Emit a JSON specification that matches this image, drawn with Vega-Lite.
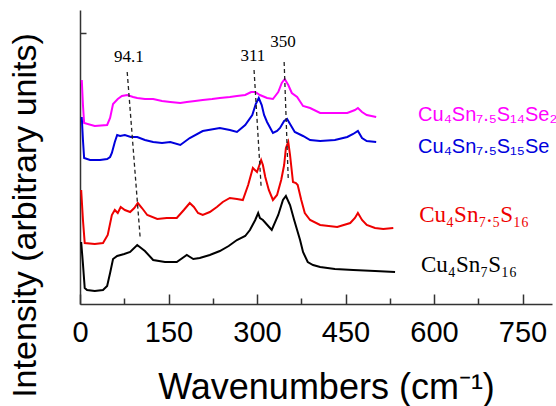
{
  "$schema": "https://vega.github.io/schema/vega-lite/v6.json",
  "width": 472,
  "height": 294,
  "autosize": {"type": "none"},
  "padding": {"left": 80, "top": 10, "right": 4, "bottom": 102},
  "background": "white",
  "config": {"view": {"stroke": null}, "font": "Liberation Sans"},
  "resolve": {"axis": {"x": "independent"}},
  "datasets": {
    "spectra": [
      {"s": "CuSnS", "w": 2, "v": 62}, {"s": "CuSnS", "w": 5, "v": 40}, {"s": "CuSnS", "w": 8, "v": 16}, {"s": "CuSnS", "w": 12, "v": 14}, {"s": "CuSnS", "w": 25, "v": 13}, {"s": "CuSnS", "w": 39, "v": 14}, {"s": "CuSnS", "w": 46, "v": 18}, {"s": "CuSnS", "w": 51, "v": 31}, {"s": "CuSnS", "w": 56, "v": 45}, {"s": "CuSnS", "w": 63, "v": 48}, {"s": "CuSnS", "w": 75, "v": 50}, {"s": "CuSnS", "w": 85, "v": 52}, {"s": "CuSnS", "w": 97, "v": 59}, {"s": "CuSnS", "w": 110, "v": 53}, {"s": "CuSnS", "w": 124, "v": 44}, {"s": "CuSnS", "w": 144, "v": 42}, {"s": "CuSnS", "w": 164, "v": 42}, {"s": "CuSnS", "w": 181, "v": 49}, {"s": "CuSnS", "w": 192, "v": 45}, {"s": "CuSnS", "w": 203, "v": 46}, {"s": "CuSnS", "w": 220, "v": 49}, {"s": "CuSnS", "w": 237, "v": 53}, {"s": "CuSnS", "w": 252, "v": 58}, {"s": "CuSnS", "w": 266, "v": 64}, {"s": "CuSnS", "w": 280, "v": 68}, {"s": "CuSnS", "w": 288, "v": 74}, {"s": "CuSnS", "w": 297, "v": 84}, {"s": "CuSnS", "w": 302, "v": 91}, {"s": "CuSnS", "w": 305, "v": 86}, {"s": "CuSnS", "w": 310, "v": 84}, {"s": "CuSnS", "w": 319, "v": 78}, {"s": "CuSnS", "w": 325, "v": 74}, {"s": "CuSnS", "w": 336, "v": 89}, {"s": "CuSnS", "w": 344, "v": 104}, {"s": "CuSnS", "w": 349, "v": 108}, {"s": "CuSnS", "w": 356, "v": 99}, {"s": "CuSnS", "w": 363, "v": 84}, {"s": "CuSnS", "w": 368, "v": 74}, {"s": "CuSnS", "w": 373, "v": 64}, {"s": "CuSnS", "w": 378, "v": 52}, {"s": "CuSnS", "w": 386, "v": 42}, {"s": "CuSnS", "w": 395, "v": 39}, {"s": "CuSnS", "w": 407, "v": 37}, {"s": "CuSnS", "w": 432, "v": 35}, {"s": "CuSnS", "w": 463, "v": 34}, {"s": "CuSnS", "w": 500, "v": 33}, {"s": "CuSnS", "w": 534, "v": 32},

      {"s": "Cu4Sn7.5S16", "w": 2, "v": 114}, {"s": "Cu4Sn7.5S16", "w": 5, "v": 84}, {"s": "Cu4Sn7.5S16", "w": 8, "v": 61}, {"s": "Cu4Sn7.5S16", "w": 25, "v": 60}, {"s": "Cu4Sn7.5S16", "w": 39, "v": 61}, {"s": "Cu4Sn7.5S16", "w": 47, "v": 69}, {"s": "Cu4Sn7.5S16", "w": 54, "v": 89}, {"s": "Cu4Sn7.5S16", "w": 59, "v": 94}, {"s": "Cu4Sn7.5S16", "w": 64, "v": 91}, {"s": "Cu4Sn7.5S16", "w": 69, "v": 97}, {"s": "Cu4Sn7.5S16", "w": 76, "v": 94}, {"s": "Cu4Sn7.5S16", "w": 85, "v": 92}, {"s": "Cu4Sn7.5S16", "w": 92, "v": 96}, {"s": "Cu4Sn7.5S16", "w": 98, "v": 101}, {"s": "Cu4Sn7.5S16", "w": 105, "v": 96}, {"s": "Cu4Sn7.5S16", "w": 114, "v": 89}, {"s": "Cu4Sn7.5S16", "w": 131, "v": 85}, {"s": "Cu4Sn7.5S16", "w": 147, "v": 86}, {"s": "Cu4Sn7.5S16", "w": 164, "v": 86}, {"s": "Cu4Sn7.5S16", "w": 176, "v": 94}, {"s": "Cu4Sn7.5S16", "w": 186, "v": 101}, {"s": "Cu4Sn7.5S16", "w": 193, "v": 97}, {"s": "Cu4Sn7.5S16", "w": 200, "v": 91}, {"s": "Cu4Sn7.5S16", "w": 208, "v": 89}, {"s": "Cu4Sn7.5S16", "w": 220, "v": 92}, {"s": "Cu4Sn7.5S16", "w": 232, "v": 97}, {"s": "Cu4Sn7.5S16", "w": 242, "v": 102}, {"s": "Cu4Sn7.5S16", "w": 254, "v": 106}, {"s": "Cu4Sn7.5S16", "w": 266, "v": 105}, {"s": "Cu4Sn7.5S16", "w": 276, "v": 104}, {"s": "Cu4Sn7.5S16", "w": 285, "v": 119}, {"s": "Cu4Sn7.5S16", "w": 293, "v": 136}, {"s": "Cu4Sn7.5S16", "w": 300, "v": 132}, {"s": "Cu4Sn7.5S16", "w": 307, "v": 144}, {"s": "Cu4Sn7.5S16", "w": 310, "v": 139}, {"s": "Cu4Sn7.5S16", "w": 314, "v": 127}, {"s": "Cu4Sn7.5S16", "w": 320, "v": 114}, {"s": "Cu4Sn7.5S16", "w": 327, "v": 104}, {"s": "Cu4Sn7.5S16", "w": 334, "v": 109}, {"s": "Cu4Sn7.5S16", "w": 341, "v": 124}, {"s": "Cu4Sn7.5S16", "w": 346, "v": 139}, {"s": "Cu4Sn7.5S16", "w": 349, "v": 156}, {"s": "Cu4Sn7.5S16", "w": 353, "v": 162}, {"s": "Cu4Sn7.5S16", "w": 356, "v": 149}, {"s": "Cu4Sn7.5S16", "w": 361, "v": 122}, {"s": "Cu4Sn7.5S16", "w": 366, "v": 121}, {"s": "Cu4Sn7.5S16", "w": 369, "v": 119}, {"s": "Cu4Sn7.5S16", "w": 375, "v": 104}, {"s": "Cu4Sn7.5S16", "w": 381, "v": 91}, {"s": "Cu4Sn7.5S16", "w": 390, "v": 84}, {"s": "Cu4Sn7.5S16", "w": 407, "v": 79}, {"s": "Cu4Sn7.5S16", "w": 436, "v": 77}, {"s": "Cu4Sn7.5S16", "w": 458, "v": 81}, {"s": "Cu4Sn7.5S16", "w": 466, "v": 86}, {"s": "Cu4Sn7.5S16", "w": 471, "v": 91}, {"s": "Cu4Sn7.5S16", "w": 478, "v": 84}, {"s": "Cu4Sn7.5S16", "w": 486, "v": 79}, {"s": "Cu4Sn7.5S16", "w": 500, "v": 76}, {"s": "Cu4Sn7.5S16", "w": 514, "v": 75}, {"s": "Cu4Sn7.5S16", "w": 531, "v": 76},

      {"s": "Cu4Sn7.5S15Se", "w": 3, "v": 187}, {"s": "Cu4Sn7.5S15Se", "w": 5, "v": 164}, {"s": "Cu4Sn7.5S15Se", "w": 7, "v": 146}, {"s": "Cu4Sn7.5S15Se", "w": 17, "v": 144}, {"s": "Cu4Sn7.5S15Se", "w": 34, "v": 144}, {"s": "Cu4Sn7.5S15Se", "w": 46, "v": 145}, {"s": "Cu4Sn7.5S15Se", "w": 51, "v": 147}, {"s": "Cu4Sn7.5S15Se", "w": 54, "v": 151}, {"s": "Cu4Sn7.5S15Se", "w": 59, "v": 162}, {"s": "Cu4Sn7.5S15Se", "w": 63, "v": 169}, {"s": "Cu4Sn7.5S15Se", "w": 68, "v": 168}, {"s": "Cu4Sn7.5S15Se", "w": 76, "v": 169}, {"s": "Cu4Sn7.5S15Se", "w": 86, "v": 167}, {"s": "Cu4Sn7.5S15Se", "w": 97, "v": 167}, {"s": "Cu4Sn7.5S15Se", "w": 110, "v": 164}, {"s": "Cu4Sn7.5S15Se", "w": 124, "v": 162}, {"s": "Cu4Sn7.5S15Se", "w": 139, "v": 161}, {"s": "Cu4Sn7.5S15Se", "w": 153, "v": 162}, {"s": "Cu4Sn7.5S15Se", "w": 170, "v": 159}, {"s": "Cu4Sn7.5S15Se", "w": 186, "v": 166}, {"s": "Cu4Sn7.5S15Se", "w": 208, "v": 173}, {"s": "Cu4Sn7.5S15Se", "w": 237, "v": 176}, {"s": "Cu4Sn7.5S15Se", "w": 254, "v": 174}, {"s": "Cu4Sn7.5S15Se", "w": 266, "v": 172}, {"s": "Cu4Sn7.5S15Se", "w": 280, "v": 179}, {"s": "Cu4Sn7.5S15Se", "w": 292, "v": 189}, {"s": "Cu4Sn7.5S15Se", "w": 298, "v": 200}, {"s": "Cu4Sn7.5S15Se", "w": 303, "v": 206}, {"s": "Cu4Sn7.5S15Se", "w": 308, "v": 199}, {"s": "Cu4Sn7.5S15Se", "w": 312, "v": 189}, {"s": "Cu4Sn7.5S15Se", "w": 317, "v": 182}, {"s": "Cu4Sn7.5S15Se", "w": 327, "v": 171}, {"s": "Cu4Sn7.5S15Se", "w": 334, "v": 173}, {"s": "Cu4Sn7.5S15Se", "w": 339, "v": 176}, {"s": "Cu4Sn7.5S15Se", "w": 346, "v": 183}, {"s": "Cu4Sn7.5S15Se", "w": 351, "v": 185}, {"s": "Cu4Sn7.5S15Se", "w": 356, "v": 180}, {"s": "Cu4Sn7.5S15Se", "w": 364, "v": 172}, {"s": "Cu4Sn7.5S15Se", "w": 378, "v": 168}, {"s": "Cu4Sn7.5S15Se", "w": 390, "v": 164}, {"s": "Cu4Sn7.5S15Se", "w": 407, "v": 163}, {"s": "Cu4Sn7.5S15Se", "w": 432, "v": 164}, {"s": "Cu4Sn7.5S15Se", "w": 453, "v": 167}, {"s": "Cu4Sn7.5S15Se", "w": 463, "v": 170}, {"s": "Cu4Sn7.5S15Se", "w": 471, "v": 173}, {"s": "Cu4Sn7.5S15Se", "w": 478, "v": 166}, {"s": "Cu4Sn7.5S15Se", "w": 486, "v": 163}, {"s": "Cu4Sn7.5S15Se", "w": 502, "v": 162},

      {"s": "Cu4Sn7.5S14Se2", "w": 3, "v": 224}, {"s": "Cu4Sn7.5S14Se2", "w": 5, "v": 199}, {"s": "Cu4Sn7.5S14Se2", "w": 7, "v": 181}, {"s": "Cu4Sn7.5S14Se2", "w": 25, "v": 178}, {"s": "Cu4Sn7.5S14Se2", "w": 46, "v": 179}, {"s": "Cu4Sn7.5S14Se2", "w": 51, "v": 186}, {"s": "Cu4Sn7.5S14Se2", "w": 56, "v": 200}, {"s": "Cu4Sn7.5S14Se2", "w": 64, "v": 205}, {"s": "Cu4Sn7.5S14Se2", "w": 71, "v": 208}, {"s": "Cu4Sn7.5S14Se2", "w": 80, "v": 209}, {"s": "Cu4Sn7.5S14Se2", "w": 90, "v": 207}, {"s": "Cu4Sn7.5S14Se2", "w": 97, "v": 206}, {"s": "Cu4Sn7.5S14Se2", "w": 110, "v": 205}, {"s": "Cu4Sn7.5S14Se2", "w": 124, "v": 205}, {"s": "Cu4Sn7.5S14Se2", "w": 139, "v": 203}, {"s": "Cu4Sn7.5S14Se2", "w": 153, "v": 202}, {"s": "Cu4Sn7.5S14Se2", "w": 170, "v": 201}, {"s": "Cu4Sn7.5S14Se2", "w": 181, "v": 202}, {"s": "Cu4Sn7.5S14Se2", "w": 195, "v": 203}, {"s": "Cu4Sn7.5S14Se2", "w": 208, "v": 204}, {"s": "Cu4Sn7.5S14Se2", "w": 224, "v": 205}, {"s": "Cu4Sn7.5S14Se2", "w": 237, "v": 206}, {"s": "Cu4Sn7.5S14Se2", "w": 254, "v": 207}, {"s": "Cu4Sn7.5S14Se2", "w": 266, "v": 208}, {"s": "Cu4Sn7.5S14Se2", "w": 280, "v": 209}, {"s": "Cu4Sn7.5S14Se2", "w": 290, "v": 212}, {"s": "Cu4Sn7.5S14Se2", "w": 297, "v": 212}, {"s": "Cu4Sn7.5S14Se2", "w": 305, "v": 209}, {"s": "Cu4Sn7.5S14Se2", "w": 317, "v": 206}, {"s": "Cu4Sn7.5S14Se2", "w": 327, "v": 205}, {"s": "Cu4Sn7.5S14Se2", "w": 336, "v": 212}, {"s": "Cu4Sn7.5S14Se2", "w": 342, "v": 221}, {"s": "Cu4Sn7.5S14Se2", "w": 347, "v": 225}, {"s": "Cu4Sn7.5S14Se2", "w": 353, "v": 219}, {"s": "Cu4Sn7.5S14Se2", "w": 359, "v": 211}, {"s": "Cu4Sn7.5S14Se2", "w": 368, "v": 207}, {"s": "Cu4Sn7.5S14Se2", "w": 378, "v": 198}, {"s": "Cu4Sn7.5S14Se2", "w": 390, "v": 196}, {"s": "Cu4Sn7.5S14Se2", "w": 407, "v": 191}, {"s": "Cu4Sn7.5S14Se2", "w": 432, "v": 191}, {"s": "Cu4Sn7.5S14Se2", "w": 453, "v": 191}, {"s": "Cu4Sn7.5S14Se2", "w": 466, "v": 194}, {"s": "Cu4Sn7.5S14Se2", "w": 471, "v": 196}, {"s": "Cu4Sn7.5S14Se2", "w": 478, "v": 192}, {"s": "Cu4Sn7.5S14Se2", "w": 486, "v": 189}, {"s": "Cu4Sn7.5S14Se2", "w": 502, "v": 187}
    ],
    "guides": [
      {"w": 80, "v": 232, "w2": 102, "v2": 66},
      {"w": 295, "v": 234, "w2": 307, "v2": 117},
      {"w": 346, "v": 242, "w2": 353, "v2": 124}
    ],
    "peaks": [
      {"w": 83, "v": 247, "t": "94.1"},
      {"w": 293, "v": 248, "t": "311"},
      {"w": 344, "v": 262, "t": "350"}
    ],
    "sansLabels": [
      {"s": "Cu4Sn7.5S14Se2", "w": 573, "v": 189, "t": "Cu₄Sn₇.₅S₁₄Se₂"},
      {"s": "Cu4Sn7.5S15Se", "w": 573, "v": 157, "t": "Cu₄Sn₇.₅S₁₅Se"}
    ],
    "serifLabels": [
      {"s": "Cu4Sn7.5S16", "w": 575, "v": 89, "t": "Cu₄Sn₇.₅S₁₆"},
      {"s": "CuSnS", "w": 578, "v": 39, "t": "Cu₄Sn₇S₁₆"}
    ]
  },
  "layer": [
    {
      "data": {"name": "spectra"},
      "mark": {"type": "line", "strokeWidth": 2, "interpolate": "linear"},
      "encoding": {
        "x": {
          "field": "w", "type": "quantitative",
          "scale": {"domain": [0, 800], "nice": false, "zero": false},
          "axis": {
            "orient": "bottom",
            "values": [0, 150, 300, 450, 600, 750],
            "title": "Wavenumbers (cm⁻¹)",
            "titleFont": "Liberation Sans", "titleFontSize": 36, "titleFontWeight": "normal", "titleColor": "black",
            "titleX": 246, "titleY": 94, "titleBaseline": "alphabetic", "titleAlign": "center",
            "labelFont": "Liberation Sans", "labelFontSize": 29, "labelColor": "black", "labelPadding": 24,
            "tickSize": -10, "tickWidth": 1.5, "tickColor": "#333",
            "domainColor": "#333", "domainWidth": 1.5, "grid": false, "labelFlush": false, "labelOverlap": false
          }
        },
        "y": {
          "field": "v", "type": "quantitative",
          "scale": {"domain": [0, 294], "nice": false, "zero": false},
          "axis": {
            "orient": "left",
            "title": "Intensity (arbitrary units)",
            "titleFont": "Liberation Sans", "titleFontSize": 34, "titleFontWeight": "normal", "titleColor": "black",
            "titleX": -55, "titleY": 205, "titleBaseline": "middle", "titleAlign": "center", "titleAngle": -90,
            "labels": false, "values": [271], "tickSize": -6, "tickWidth": 1.5, "tickColor": "#333",
            "domain": true, "domainColor": "#333", "domainWidth": 1.5, "grid": false
          }
        },
        "color": {
          "field": "s", "type": "nominal",
          "scale": {"domain": ["CuSnS", "Cu4Sn7.5S16", "Cu4Sn7.5S15Se", "Cu4Sn7.5S14Se2"], "range": ["#000000", "#ee0000", "#0000dd", "#ff00ff"]},
          "legend": null
        }
      }
    },
    {
      "data": {"name": "guides"},
      "mark": {"type": "rule", "strokeDash": [4, 3], "strokeWidth": 1.3, "color": "#222"},
      "encoding": {
        "x": {
          "field": "w", "type": "quantitative",
          "axis": {"orient": "bottom", "values": [75, 225, 375, 525, 675], "labels": false, "title": null, "domain": false, "grid": false, "tickSize": -6, "tickWidth": 1.5, "tickColor": "#333"}
        },
        "y": {"field": "v", "type": "quantitative"},
        "x2": {"field": "w2"},
        "y2": {"field": "v2"}
      }
    },
    {
      "data": {"name": "peaks"},
      "mark": {"type": "text", "font": "Liberation Serif", "fontSize": 17, "color": "black", "align": "center", "baseline": "middle"},
      "encoding": {
        "x": {"field": "w", "type": "quantitative", "axis": null},
        "y": {"field": "v", "type": "quantitative"},
        "text": {"field": "t"}
      }
    },
    {
      "data": {"name": "sansLabels"},
      "mark": {"type": "text", "font": "Liberation Sans", "fontSize": 20, "align": "left", "baseline": "middle"},
      "encoding": {
        "x": {"field": "w", "type": "quantitative", "axis": null},
        "y": {"field": "v", "type": "quantitative"},
        "text": {"field": "t"},
        "color": {"field": "s", "type": "nominal", "legend": null}
      }
    },
    {
      "data": {"name": "serifLabels"},
      "mark": {"type": "text", "font": "Liberation Serif", "fontSize": 23, "align": "left", "baseline": "middle"},
      "encoding": {
        "x": {"field": "w", "type": "quantitative", "axis": null},
        "y": {"field": "v", "type": "quantitative"},
        "text": {"field": "t"},
        "color": {"field": "s", "type": "nominal", "legend": null}
      }
    }
  ]
}
